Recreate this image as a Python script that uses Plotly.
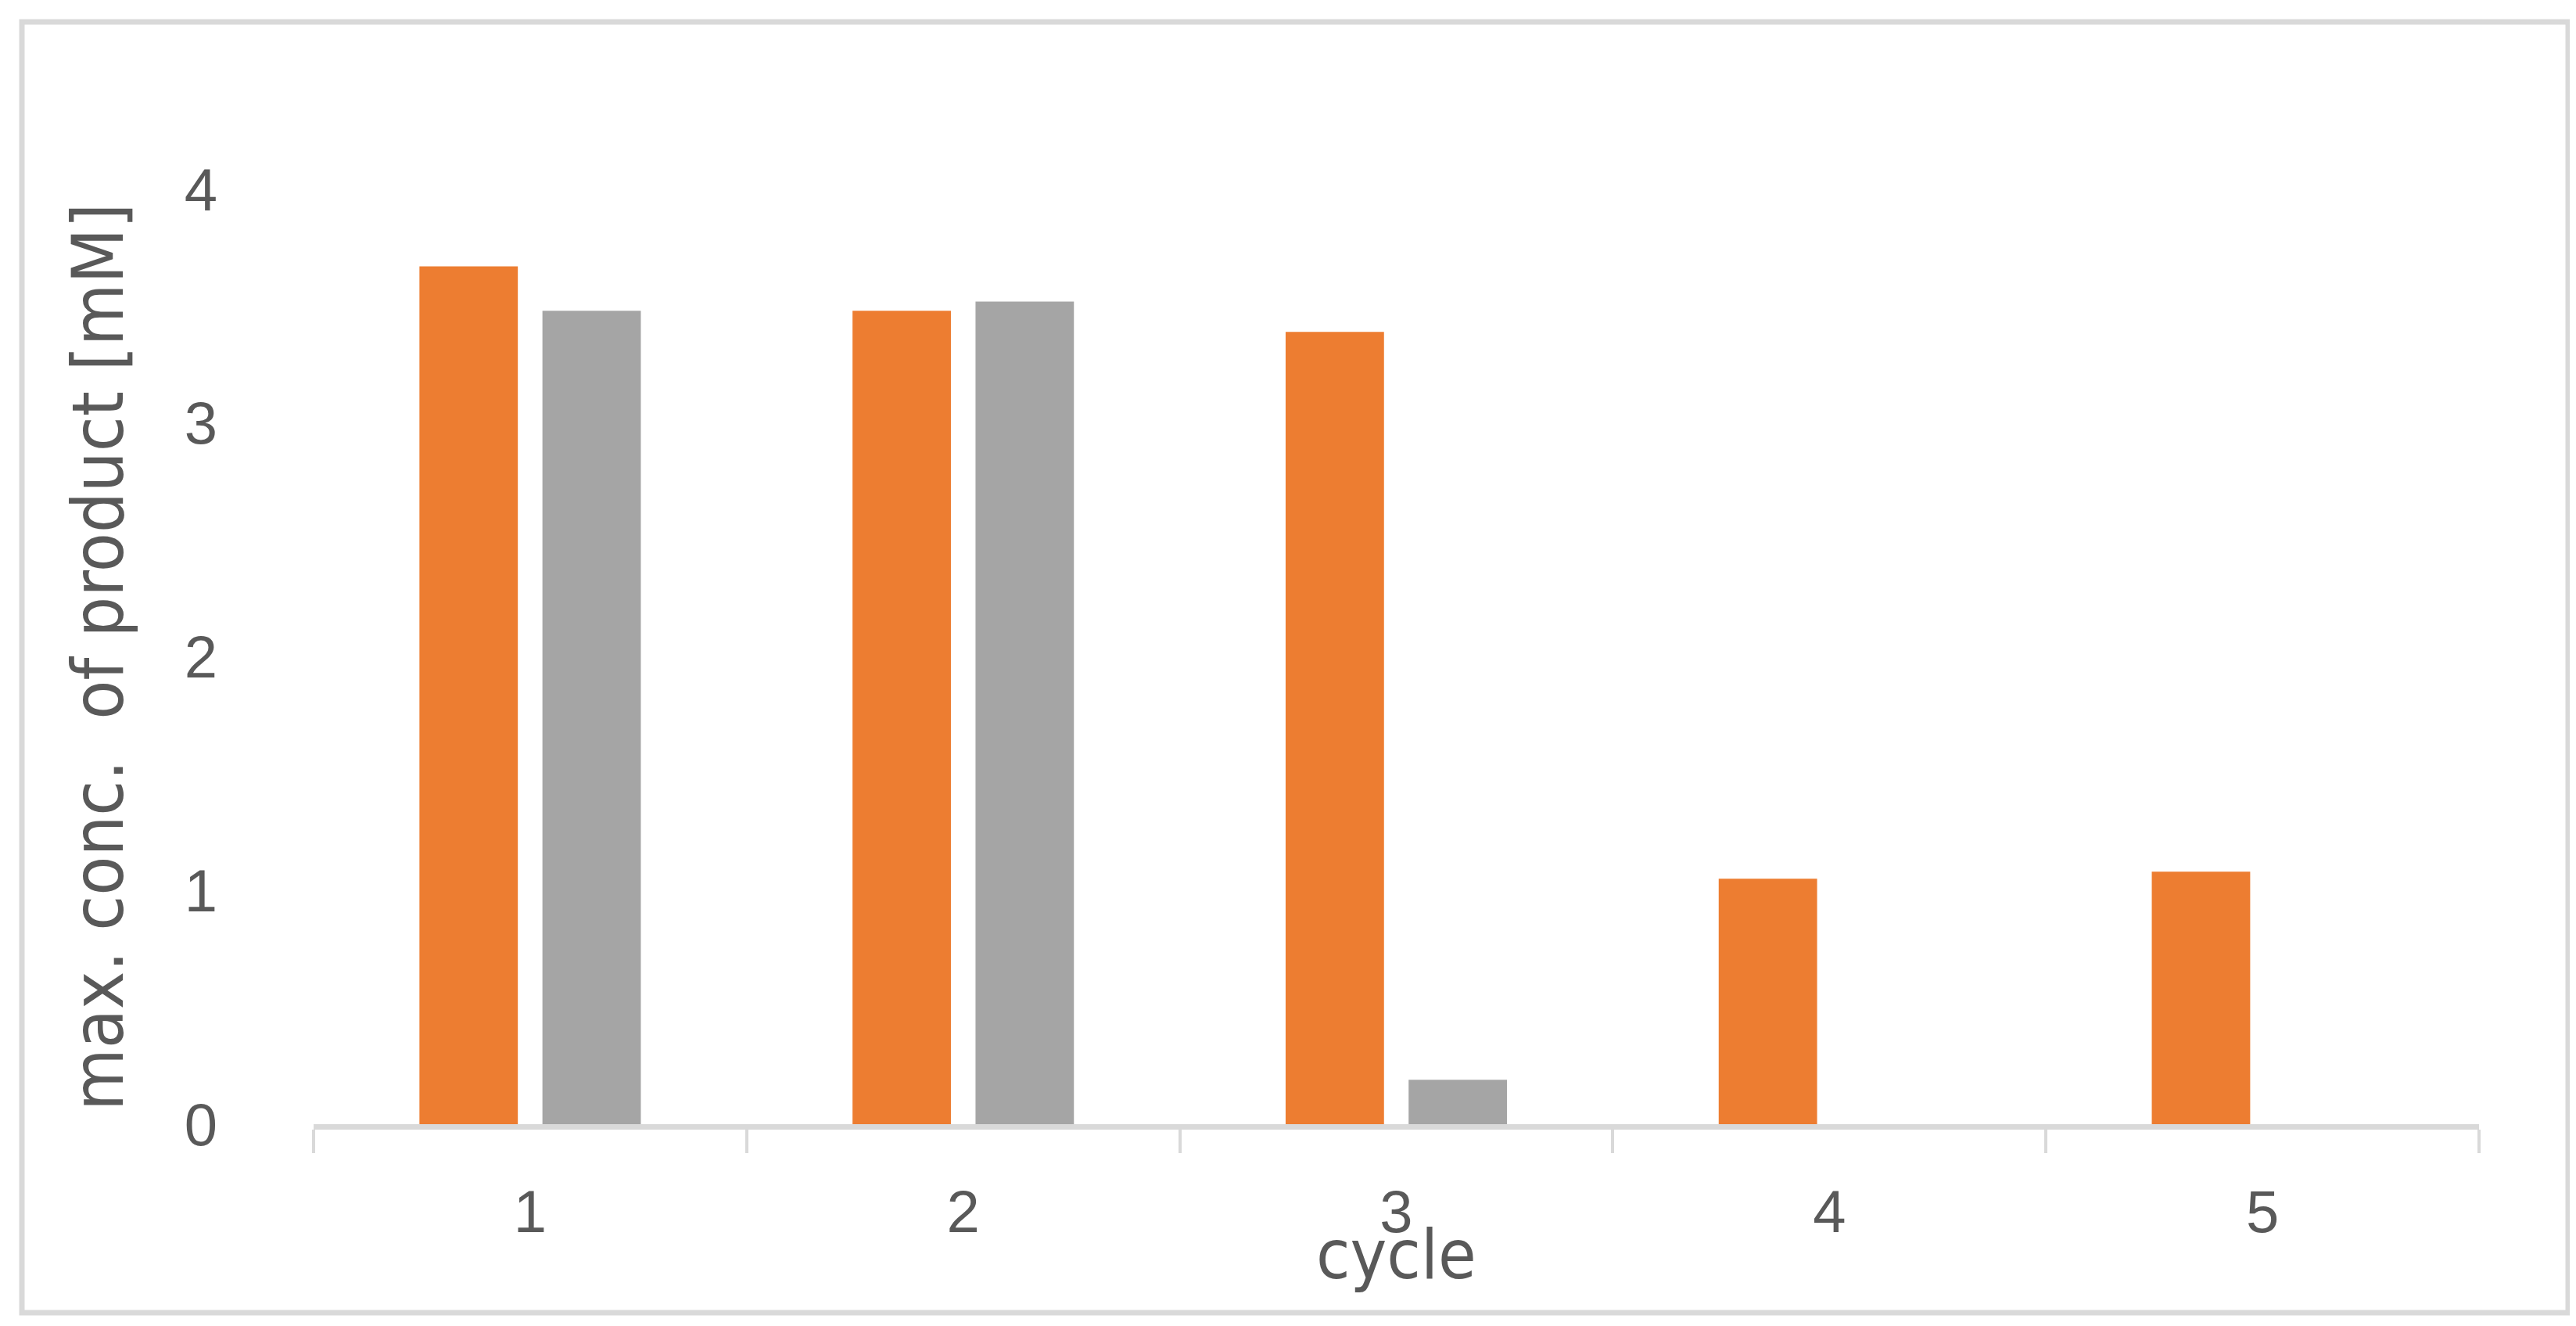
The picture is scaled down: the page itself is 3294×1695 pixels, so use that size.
import plotly.graph_objects as go

# data
cycles = ["1", "2", "3", "4", "5"]
series_a = [3.67, 3.48, 3.39, 1.05, 1.08]   # orange
series_b = [3.48, 3.52, 0.19, 0, 0]         # grey
y_ticks = [0, 1, 2, 3, 4]

W, H = 3294, 1695
L, R, T, B = 393, 132, 234, 266
pw, ph = W - L - R, H - T - B


def px_x(x):
    # pixel -> paper x
    return (x - L) / pw


def px_y(y):
    # pixel -> paper y
    return (H - B - y) / ph


txt = "#595959"
line_col = "#D9D9D9"
narrow = "DejaVu Sans Condensed, Liberation Sans, sans-serif"

fig = go.Figure()
fig.add_trace(go.Bar(x=cycles, y=series_a, marker=dict(color="#ED7D31", line_width=0)))
fig.add_trace(go.Bar(x=cycles, y=series_b, marker=dict(color="#A5A5A5", line_width=0)))

fig.update_layout(
    width=W, height=H,
    margin=dict(l=L, r=R, t=T, b=B),
    paper_bgcolor="white", plot_bgcolor="white",
    showlegend=False,
    barmode="group", bargap=0.432, bargroupgap=0.2,
    font=dict(family="Liberation Sans", color=txt, size=76),
)

fig.update_xaxes(
    type="category",
    showline=True, linecolor=line_col, linewidth=7,
    ticks="outside", tickson="boundaries", ticklen=30, tickwidth=4, tickcolor=line_col,
    showgrid=False, zeroline=False,
    tickfont=dict(size=76, color=txt),
    ticklabelstandoff=40,
)
fig.update_yaxes(
    range=[0, 4], tickvals=y_ticks,
    showline=False, showgrid=False, zeroline=False,
    ticks="", tickfont=dict(size=76, color=txt),
    ticklabelstandoff=122,
)

fig.add_annotation(
    text="cycle", xref="paper", yref="paper",
    x=0.5, y=px_y(1595), xanchor="center", yanchor="middle",
    showarrow=False, font=dict(family=narrow, size=88, color=txt),
)
fig.add_annotation(
    text="max. conc.  of product [mM]", xref="paper", yref="paper",
    x=px_x(118), y=px_y(832), xanchor="center", yanchor="middle",
    textangle=-90, showarrow=False,
    font=dict(family=narrow, size=91, color=txt),
)

# outer chart frame
fig.add_shape(
    type="rect", xref="paper", yref="paper",
    x0=px_x(20), x1=px_x(3276), y0=px_y(1670), y1=px_y(20),
    line=dict(color=line_col, width=7), fillcolor="rgba(0,0,0,0)",
)

fig.write_html("out.html")
